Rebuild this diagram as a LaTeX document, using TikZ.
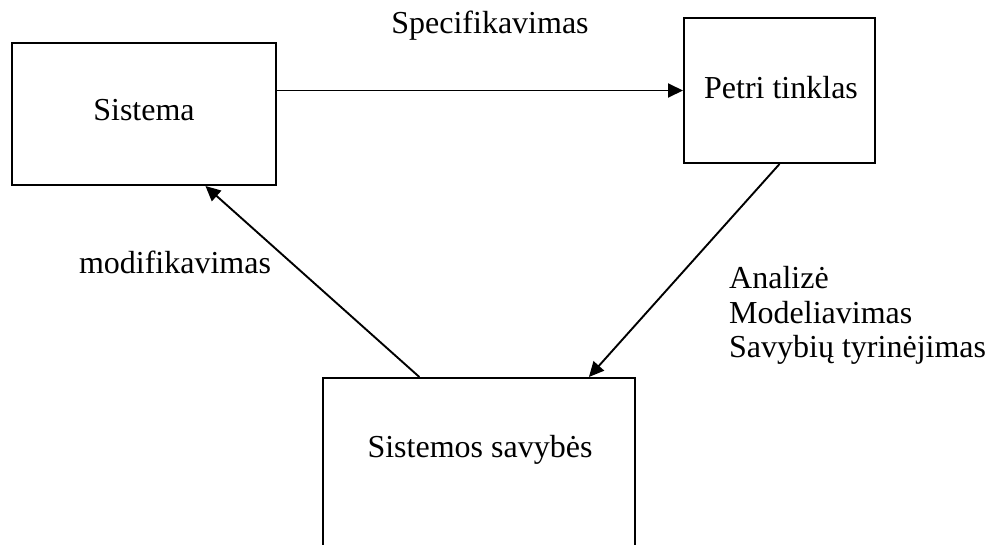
\documentclass[tikz,border=0pt]{standalone}
\usepackage{fontspec}
\setmainfont{Liberation Serif}
\usetikzlibrary{arrows.meta,calc}
\begin{document}
\begin{tikzpicture}[x=1pt,y=-1pt,
  box/.style={draw=black,line width=2pt,rectangle,inner sep=0pt},
  txt/.style={font=\fontsize{32}{34.5}\selectfont,inner sep=0pt},
  link/.style={draw=black,line width=1.9pt,-{Triangle[length=15pt,width=14pt]}}]
  \useasboundingbox (0,0) rectangle (991,544);
  \clip (0,0) rectangle (991,544);
  % boxes
  \node[box,minimum width=264pt,minimum height=142pt] (sis) at (144,114) {};
  \node[box,minimum width=191pt,minimum height=145pt] (pet) at (779.5,90.5) {};
  \node[box,minimum width=312pt,minimum height=200pt] (sav) at (479,478) {};
  % box texts
  \node[txt,anchor=base] (tsis) at (144,120) {Sistema};
  \node[txt,anchor=base] (tpet) at (781,98) {Petri tinklas};
  \node[txt,anchor=base] (tsav) at (480,457) {Sistemos savybės};
  % connectors
  \coordinate (sisout) at (sis.east |- pet.west);
  \coordinate (petout) at (pet.south);
  \coordinate (savin) at ($(sav.north west)!0.85!(sav.north east)$);
  \coordinate (savout) at ($(sav.north west)!0.31!(sav.north east)$);
  \coordinate (sisin) at ($(sis.south west)!0.731!(sis.south east)$);
  \draw[link] (sisout) -- (pet.west);
  \draw[link] (petout) -- (savin);
  \draw[link] (savout) -- (sisin);
  % connector labels
  \node[txt,anchor=base] (lspec) at (490,33) {Specifikavimas};
  \node[txt,anchor=base] (lmod) at (175,273) {modifikavimas};
  \node[txt,align=left,anchor=north west] (lan) at (729,266.5) {Analizė\\Modeliavimas\\Savybių tyrinėjimas};
\end{tikzpicture}
\end{document}
